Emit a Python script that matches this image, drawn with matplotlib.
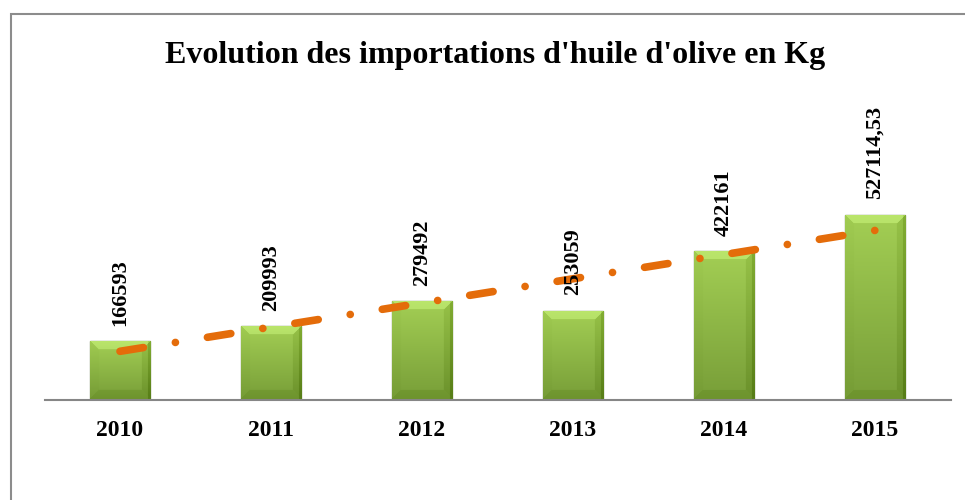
import numpy as np
import matplotlib.pyplot as plt
from matplotlib.patches import Rectangle

years = ['2010', '2011', '2012', '2013', '2014', '2015']
values = [166593, 209993, 279492, 253059, 422161, 527114.53]
title = "Evolution des importations d'huile d'olive en Kg"

plt.rcParams['font.family'] = ['Liberation Serif', 'DejaVu Serif']

W, H = 965, 500
fig = plt.figure(figsize=(W / 100, H / 100), dpi=100, facecolor='white')

# axes placed in pixel terms
left, right, bottom, top = 44.5, 950.5, 100.5, 80
ax = fig.add_axes([left / W, bottom / H, (right - left) / W, (H - top - bottom) / H])
ymax = 911000
ax.set_xlim(-0.5, len(years) - 0.5)
ax.set_ylim(0, ymax)

x = np.arange(len(years))
bars = ax.bar(x, values, width=0.4, color='#9BC24C', edgecolor='#3F5218', linewidth=0.9, zorder=2)

# gradient + bevel look for each bar
px_per_unit = (H - top - bottom) / ymax
bar_px = 0.4 * (right - left) / len(years)
for b in bars:
    hpx = max(int(b.get_height() * px_per_unit), 2)
    wpx = max(int(bar_px), 2)
    ii, jj = np.mgrid[0:hpx, 0:wpx]
    t = ii / (hpx - 1)
    top_c = np.array([0.64, 0.81, 0.33])
    bot_c = np.array([0.47, 0.62, 0.22])
    arr = top_c[None, None, :] * (1 - t[..., None]) + bot_c[None, None, :] * t[..., None]
    bev = 9
    dt, db, dl, dr = ii, hpx - 1 - ii, jj, wpx - 1 - jj
    d = np.stack([dt, db, dl, dr])
    face = d.argmin(axis=0)
    near = d.min(axis=0) < bev
    shade = np.zeros((hpx, wpx))
    shade[(face == 0) & near] = 0.09
    shade[(face == 1) & near] = -0.04
    shade[(face == 2) & near] = -0.01
    shade[(face == 3) & near] = -0.05
    shade[:, -3:] -= 0.08
    arr = np.clip(arr + shade[..., None], 0, 1)
    im = ax.imshow(arr, extent=[b.get_x(), b.get_x() + b.get_width(), 0, b.get_height()],
                   aspect='auto', origin='upper', zorder=2, interpolation='bilinear')
    im.set_clip_path(b)

# linear trend
coef = np.polyfit(x, values, 1)
trend = np.polyval(coef, x)
ax.plot(x, trend, color='#E46C0A', lw=5.5, dash_capstyle='round',
        linestyle=(0, (3.1, 4.24, 0.01, 4.24)), zorder=3)

for xi, v in zip(x, values):
    ax.annotate(str(v).replace('.', ','), (xi, v), xytext=(0, 11), textcoords='offset points',
                rotation=90, ha='center', va='bottom', fontsize=16, fontweight='bold', zorder=4)

ax.set_xticks(x)
ax.set_xticklabels(years, fontsize=17, fontweight='bold')
ax.tick_params(axis='x', length=0, pad=15)
ax.set_yticks([])
for s in ['top', 'left', 'right']:
    ax.spines[s].set_visible(False)
ax.spines['bottom'].set_color('#868686')
ax.spines['bottom'].set_linewidth(1.5)
ax.set_facecolor('none')

fig.text(495 / W, 1 - 55 / H, title, ha='center', va='center', fontsize=23, fontweight='bold')

fig.patches.append(Rectangle((10.5 / W, -0.02), 1.0, 1 - 13.5 / H + 0.02, transform=fig.transFigure,
                             fill=False, edgecolor='#8C8C8C', lw=1.5))

fig.savefig('out.png', dpi=100, facecolor='white')
